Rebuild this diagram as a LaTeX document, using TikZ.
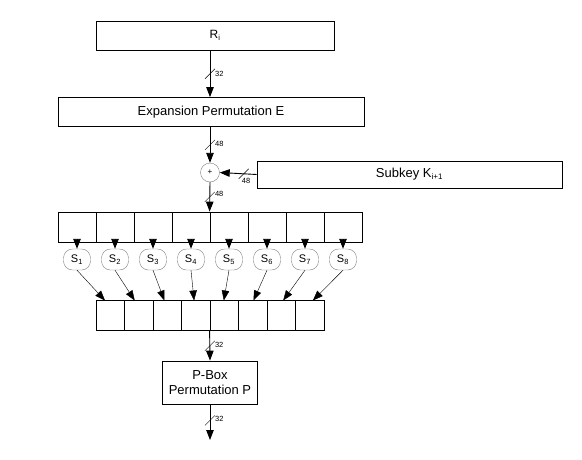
\documentclass[tikz,border=0pt]{standalone}
\usepackage{fontspec}
\setmainfont{Liberation Sans}
\usetikzlibrary{arrows.meta,calc,positioning}
\begin{document}
\begin{tikzpicture}[x=1pt,y=-1pt,
  box/.style={draw,line width=0.8pt,inner sep=0pt,font=\fontsize{13}{15}\selectfont,align=center},
  cell/.style={draw,line width=0.8pt,inner sep=0pt,minimum height=30pt},
  sbox/.style={draw=gray,line width=0.4pt,rounded corners=9pt,minimum width=27pt,minimum height=21pt,inner sep=0pt,font=\fontsize{11}{12}\selectfont},
  arr/.style={line width=0.9pt,-{Triangle[length=10pt,width=7.5pt]}},
  sarr/.style={line width=0.4pt,-{Triangle[length=10pt,width=7.5pt]}},
  lbl/.style={font=\fontsize{7.5}{8}\selectfont,inner sep=0pt}
]
\useasboundingbox (0,0) rectangle (582,459);
\newcommand{\slashmark}[1]{\draw[line width=0.4pt] ($(#1)+(-5,5)$) -- ($(#1)+(5,-5)$);}

\node[box,minimum width=238pt,minimum height=29pt,font=\fontsize{12}{14}\selectfont] (R) at (215,35.5) {R\textsubscript{\fontsize{7.5}{8}\selectfont i}};
\node[box,minimum width=306pt,minimum height=29pt] (E) at (211,112) {Expansion Permutation E};
\node[draw=gray,line width=0.4pt,circle,minimum size=19pt,inner sep=0pt,font=\fontsize{8}{8}\selectfont] (X) at (210,172.5) {+};
\node[box,minimum width=305pt,minimum height=27pt] (K) at (409.5,174.5) {Subkey K\textsubscript{\fontsize{8}{8}\selectfont i+1}};

% input cells
\foreach \i in {1,...,8} {
  \node[cell,minimum width=38pt] (c\i) at ({58+38*(\i-0.5)},227) {};
  \node[sbox] (s\i) at ({58+38*(\i-0.5)},259.5) {S\textsubscript{\fontsize{7.5}{8}\selectfont\i}};
  \node[cell,minimum width=28.5pt] (o\i) at ({96+28.5*(\i-0.5)},315.5) {};
  \coordinate (t\i) at ({105+29.7*(\i-1)},300.5);
  \draw[arr] (c\i.south) -- (s\i.north);
  \draw[sarr] (s\i.south) -- (t\i);
}

\node[box,minimum width=95pt,minimum height=43pt] (P) at (210,382.5) {P-Box\\Permutation P};
\coordinate (end) at (210,440);

% main connectors
\draw[arr] (R.south -| X) -- (E.north -| X) coordinate[pos=0.5] (m1);
\slashmark{m1}
\node[lbl,anchor=west] at ($(m1)+(5,0)$) {32};

\draw[arr] (E.south -| X) -- (X.north) coordinate[pos=0.5] (m2);
\slashmark{m2}
\node[lbl,anchor=west] at ($(m2)+(5,-1)$) {48};

\draw[arr] (K.west) -- (X.east) coordinate[pos=0.35] (m3);
\slashmark{m3}
\node[lbl,anchor=north west] at ($(m3)+(-2,4)$) {48};

\draw[arr] (X.south) -- (c5.north west) coordinate[pos=0.5] (m4);
\slashmark{m4}
\node[lbl,anchor=west] at ($(m4)+(5,-3)$) {48};

\draw[arr] (o5.south west) -- (P.north -| X) coordinate[pos=0.5] (m5);
\slashmark{m5}
\node[lbl,anchor=west] at ($(m5)+(5,-1)$) {32};

\draw[arr] (P.south -| X) -- (end) coordinate[pos=0.45] (m6);
\slashmark{m6}
\node[lbl,anchor=west] at ($(m6)+(5,-2)$) {32};
\end{tikzpicture}
\end{document}
